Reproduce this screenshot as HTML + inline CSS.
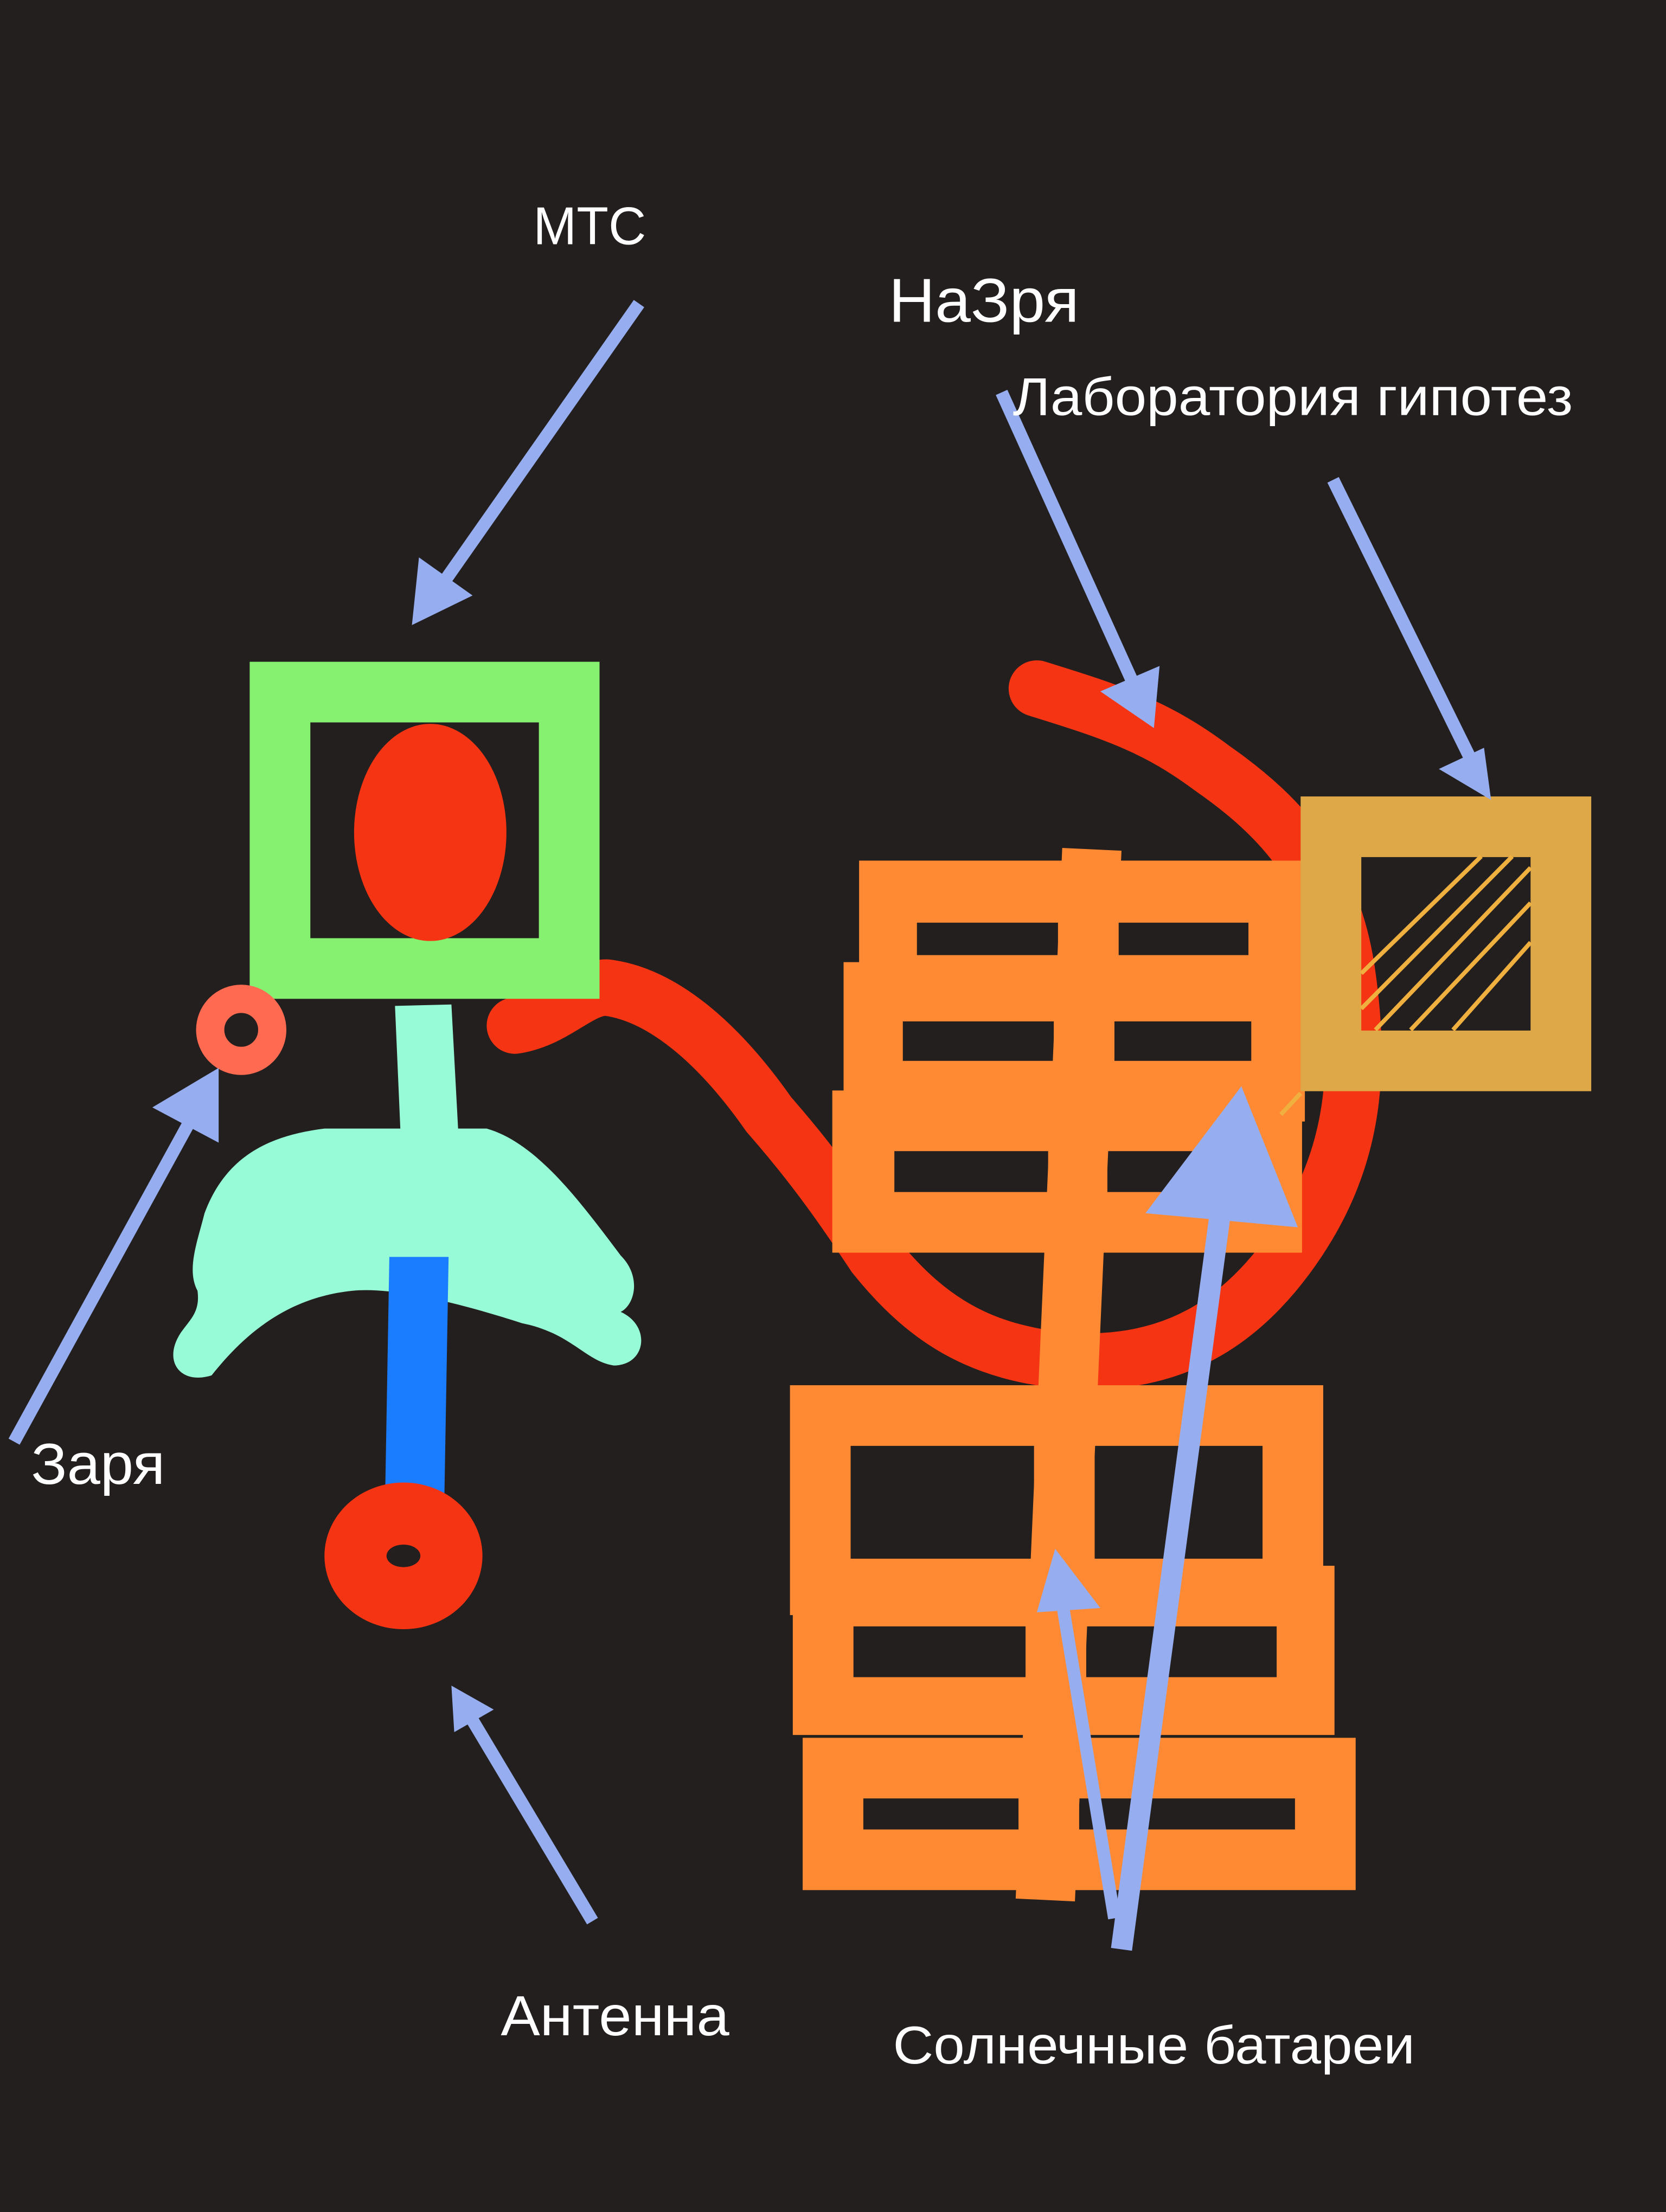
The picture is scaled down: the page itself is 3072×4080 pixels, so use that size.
<!DOCTYPE html>
<html><head><meta charset="utf-8"><style>
html,body{margin:0;padding:0;background:#231f1e;}
svg{display:block;}
text{font-family:"Liberation Sans","DejaVu Sans",sans-serif;fill:#ffffff;}
</style></head><body>
<svg width="3072" height="4080" viewBox="0 0 1181 1568" xmlns="http://www.w3.org/2000/svg">
<rect x="0" y="0" width="1181" height="1568" fill="#231f1e"/>

<path d="M365,727 C395,722 410,700 430,700 C470,705 510,740 545,790 C580,830 600,860 620,890 C660,940 700,960 760,965 C830,968 880,940 920,880 C960,820 965,760 955,690 C945,620 910,580 860,545 C820,515 790,505 735,488" fill="none" stroke="#f43412" stroke-width="40" stroke-linecap="round" stroke-linejoin="round"/>

<g fill="#ff8a33">
<rect x="609" y="610" width="316" height="92"/>
<rect x="598" y="682" width="327" height="113"/>
<rect x="590" y="773" width="333" height="115"/>
<rect x="560" y="982" width="378" height="163"/>
<rect x="562" y="1110" width="384" height="120"/>
<rect x="569" y="1232" width="392" height="108"/>
</g>
<g fill="#231f1e">
<rect x="650" y="654" width="100" height="23"/>
<rect x="793" y="654" width="92" height="23"/>
<rect x="640" y="724" width="107" height="28"/>
<rect x="790" y="724" width="97" height="28"/>
<rect x="634" y="816" width="109" height="29"/>
<rect x="785" y="816" width="100" height="29"/>
<rect x="603" y="1025" width="130" height="80"/>
<rect x="776" y="1025" width="119" height="80"/>
<rect x="605" y="1153" width="122" height="36"/>
<rect x="770" y="1153" width="135" height="36"/>
<rect x="612" y="1275" width="110" height="22"/>
<rect x="765" y="1275" width="153" height="22"/>
</g>
<polygon points="753,601 795,603 762,1348 720,1346" fill="#ff8a33"/>

<rect x="943.5" y="586" width="163" height="166" fill="none" stroke="#dea848" stroke-width="43"/>
<g stroke="#f0b040" stroke-width="3">
<line x1="965" y1="690" x2="1050" y2="607"/>
<line x1="965" y1="715" x2="1072" y2="607"/>
<line x1="975" y1="730" x2="1085" y2="615"/>
<line x1="1000" y1="730" x2="1085" y2="640"/>
<line x1="1030" y1="730" x2="1085" y2="668"/>
<line x1="908" y1="790" x2="922" y2="775"/>
</g>

<rect x="198.5" y="490.5" width="205" height="196" fill="none" stroke="#86f070" stroke-width="43"/>
<ellipse cx="305" cy="590" rx="54" ry="77" fill="#f43412"/>

<circle cx="171" cy="730" r="22" fill="none" stroke="#ff6a50" stroke-width="20"/>

<polygon points="280,713 320,712 325,805 284,805" fill="#96fbd6"/>
<path d="M230,800 L345,800 C380,810 410,850 440,890 C455,905 450,925 440,930 C462,940 458,968 435,968 C415,965 405,945 370,938 C330,925 280,912 250,915 C200,920 170,950 150,975 C128,982 115,965 128,945 C135,935 142,930 140,915 C132,900 140,880 145,860 C160,820 190,805 230,800 Z" fill="#96fbd6"/>

<polygon points="276,891 318,891 315,1062 273,1062" fill="#1a7cff"/>

<ellipse cx="286" cy="1103" rx="56" ry="52" fill="#f43412"/>
<ellipse cx="286" cy="1103" rx="12" ry="8" fill="#231f1e"/>

<g stroke="#96aef0" stroke-width="9" fill="#96aef0" stroke-linecap="butt">
<line x1="453" y1="215" x2="315" y2="412"/>
<polygon points="292,443 297,395 335,422" stroke="none"/>
<line x1="710" y1="278" x2="805" y2="488"/>
<polygon points="818,516 780,490 822,472" stroke="none"/>
<line x1="945" y1="340" x2="1045" y2="543"/>
<polygon points="1057,567 1020,545 1052,530" stroke="none"/>
<line x1="10" y1="1022" x2="140" y2="785"/>
<polygon points="155,757 155,810 108,785" stroke="none"/>
<line x1="420" y1="1362" x2="334" y2="1218"/>
<polygon points="320,1195 350,1212 322,1228" stroke="none"/>
<line x1="790" y1="1360" x2="752" y2="1130"/>
<polygon points="748,1098 780,1140 735,1143" stroke="none"/>
<line x1="795" y1="1382" x2="865" y2="860" stroke-width="15"/>
<polygon points="880,770 920,870 812,860" stroke="none"/>
</g>

<text x="378" y="173" font-size="38" textLength="80" lengthAdjust="spacingAndGlyphs">МТС</text>
<text x="630" y="228" font-size="44" textLength="135" lengthAdjust="spacingAndGlyphs">НаЗря</text>
<text x="718" y="294" font-size="38" textLength="397" lengthAdjust="spacingAndGlyphs">Лаборатория гипотез</text>
<text x="22" y="1052" font-size="41" textLength="95" lengthAdjust="spacingAndGlyphs">Заря</text>
<text x="355" y="1443" font-size="40" textLength="162" lengthAdjust="spacingAndGlyphs">Антенна</text>
<text x="633" y="1463" font-size="38" textLength="370" lengthAdjust="spacingAndGlyphs">Солнечные батареи</text>
</svg>
</body></html>
